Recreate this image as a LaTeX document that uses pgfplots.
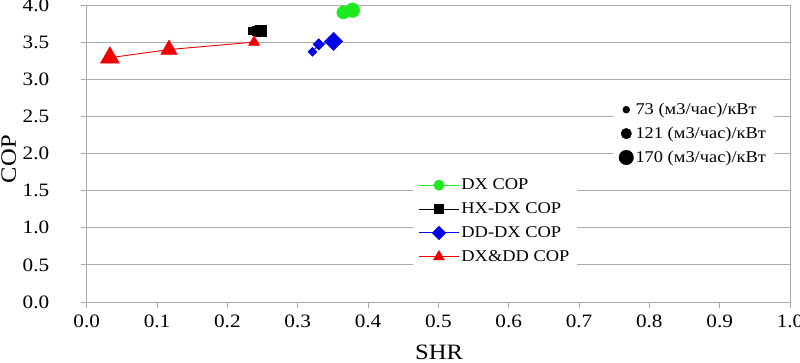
\documentclass[border=0pt]{standalone}
\usepackage{fontspec}
\setmainfont[FakeStretch=1.12]{Liberation Serif}
\usepackage{pgfplots}
\pgfplotsset{compat=1.18}
\usepackage{pgfplotstable}
\definecolor{gridgray}{RGB}{170,170,170}
\definecolor{dxgreen}{RGB}{30,235,30}
\definecolor{ddblue}{RGB}{0,0,235}
\definecolor{ddred}{RGB}{240,0,0}

\pgfplotstableread{
x y s
0.362 3.89 4.5
0.365 3.90 6.6
0.378 3.93 7.3
}\dxtable
\pgfplotstableread{
x y s
0.235 3.655 3.5
0.242 3.66 4.5
0.248 3.66 5.5
}\hxtable
\pgfplotstableread{
x y s
0.321 3.37 3.2
0.330 3.47 4.1
0.351 3.51 6.5
}\ddtable
\pgfplotstableread{
x y s
0.033 3.29 11.1
0.117 3.40 9.6
0.238 3.50 6.4
}\dxddtable

\pgfplotsset{
  sizemarks/.style={
    scatter, only marks, forget plot,
    scatter/use mapped color={draw=#1, fill=#1},
    visualization depends on={\thisrow{s}\as\ms},
    scatter/@pre marker code/.append style={/tikz/mark size=\ms},
  },
}

\begin{document}
\begin{tikzpicture}
\begin{axis}[
  scale only axis,
  width=703.3bp, height=297bp,
  xmin=0, xmax=1, ymin=0, ymax=4,
  xtick={0,0.1,...,1.0},
  ytick={0,0.5,...,4.0},
  clip=false,
  axis line style={gridgray, line width=0.9bp},
  tick style={gridgray, line width=0.9bp},
  major tick length=6bp,
  tick align=outside,
  xtick pos=bottom, ytick pos=left,
  ymajorgrids,
  grid style={gridgray, line width=0.9bp},
  /pgf/number format/assume math mode=true,
  /pgf/number format/.cd, fixed, fixed zerofill, precision=1, /pgfplots/.cd,
  ticklabel style={font=\fontsize{19}{20}\selectfont},
  yticklabel style={xshift=-28bp},
  xticklabel style={yshift=-3bp},
  xlabel={SHR}, ylabel={COP},
  label style={font=\fontsize{22}{24}\selectfont},
  xlabel style={at={(axis description cs:0.501,0)}, anchor=center, yshift=-50bp},
  ylabel style={at={(axis description cs:0,0.481)}, anchor=center, xshift=0bp, yshift=78bp},
  legend style={at={(0.463,0.435)}, anchor=north west, draw=none, fill=white,
    font=\fontsize{16.5}{18}\selectfont, row sep=7.5bp, inner xsep=6bp, inner ysep=4bp},
  legend cell align=left,
  legend image code/.code={\draw[mark repeat=2,mark phase=2] plot coordinates {(0bp,0bp) (20bp,0bp) (40bp,0bp)};},
]
\coordinate (O) at (rel axis cs:0,0);
\addplot[dxgreen, line width=0.9bp, forget plot] table[x=x,y=y] {\dxtable};
\addplot[sizemarks=dxgreen, mark=*] table[x=x,y=y] {\dxtable};
\addplot[black, line width=0.9bp, forget plot] table[x=x,y=y] {\hxtable};
\addplot[sizemarks=black, mark=square*] table[x=x,y=y] {\hxtable};
\addplot[ddblue, line width=0.9bp, forget plot] table[x=x,y=y] {\ddtable};
\addplot[sizemarks=ddblue, mark=square*, mark options={rotate=45}] table[x=x,y=y] {\ddtable};
\addplot[ddred, line width=0.9bp, forget plot] table[x=x,y=y] {\dxddtable};
\addplot[sizemarks=ddred, mark=triangle*] table[x=x,y=y] {\dxddtable};

\addlegendimage{dxgreen, line width=0.9bp, mark=*, mark size=5, mark options={fill=dxgreen}}
\addlegendentry{DX COP}
\addlegendimage{black, line width=0.9bp, mark=square*, mark size=4.5}
\addlegendentry{HX-DX COP}
\addlegendimage{ddblue, line width=0.9bp, mark=square*, mark size=4.6, mark options={rotate=45}}
\addlegendentry{DD-DX COP}
\addlegendimage{ddred, line width=0.9bp, mark=triangle*, mark size=6}
\addlegendentry{DX\&DD COP}
\end{axis}
\begin{axis}[
  scale only axis,
  width=703.3bp, height=297bp,
  xmin=0, xmax=1, ymin=0, ymax=4,
  hide axis,
  legend style={at={(0.748,0.69)}, anchor=north west, draw=none, fill=white,
    font=\fontsize{16.5}{18}\selectfont, row sep=7bp, inner xsep=6bp, inner ysep=4bp},
  legend cell align=left,
  legend image code/.code={\draw plot[only marks] coordinates {(8bp,0bp)};},
]
\addlegendimage{black, mark=*, mark size=3.5}
\addlegendentry{73 (м3/час)/кВт}
\addlegendimage{black, mark=*, mark size=5.3}
\addlegendentry{121 (м3/час)/кВт}
\addlegendimage{black, mark=*, mark size=7.3}
\addlegendentry{170 (м3/час)/кВт}
\end{axis}
\pgfresetboundingbox
\path[use as bounding box] (O) ++(-86.7bp,-61bp) rectangle ++(800bp,363bp);
\end{tikzpicture}
\end{document}
